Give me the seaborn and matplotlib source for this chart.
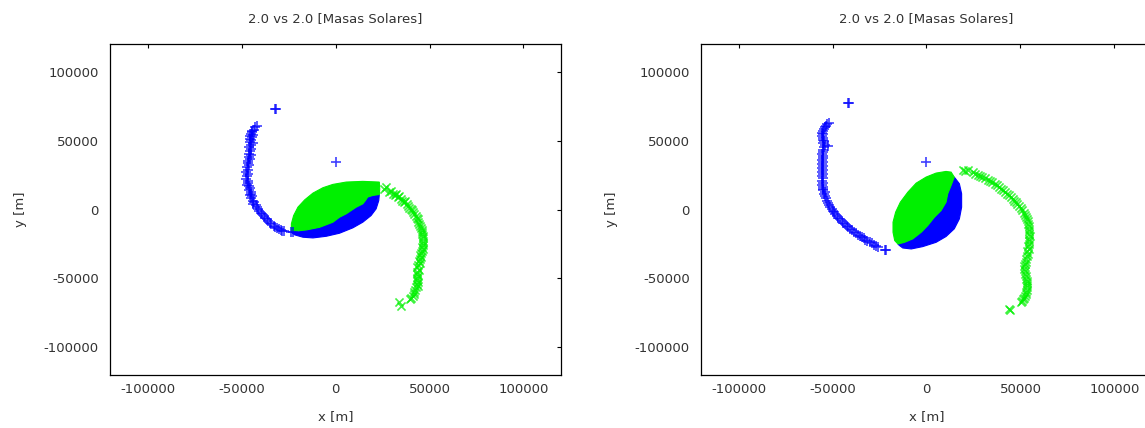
import matplotlib
matplotlib.use("Agg")
import matplotlib.pyplot as plt
import seaborn as sns

# ---------------- data (thousands of metres) ----------------
title = "2.0 vs 2.0 [Masas Solares]"
ticks = [-100000, -50000, 0, 50000, 100000]

# ---- left panel ----
L_blue_arm_x = [-32.3, -31.8, 0.0,
                -42.0, -42.8, -43.5, -44.2, -44.7, -45.0, -44.0, -45.3, -44.5, -45.6, -44.8, -45.5,
                -44.0, -45.0, -45.8, -44.8, -45.6, -46.0, -45.2, -46.2, -45.5, -46.5, -46.8, -46.0,
                -47.0, -46.8, -47.5, -46.8, -47.3, -47.6, -46.8, -46.5, -47.0, -46.2, -45.5, -46.0,
                -45.2, -44.8, -45.5, -44.2, -44.8, -43.8, -43.2, -43.8, -42.5, -42.0, -41.0, -40.5,
                -39.8, -39.0, -38.2, -37.5, -36.7, -36.0, -35.0, -34.2, -33.0, -32.0, -31.0, -30.0,
                -29.0, -28.5, -27.5, -23.5, -22.8]
L_blue_arm_y = [73.2, 72.8, 34.4,
                60.6, 59.5, 58.0, 57.0, 56.2, 55.0, 54.0, 53.5, 52.5, 51.4, 50.2, 49.0,
                48.0, 46.5, 45.0, 44.0, 42.5, 40.5, 39.5, 38.0, 36.5, 35.0, 33.5, 32.0,
                30.5, 28.4, 27.0, 25.5, 24.0, 22.3, 21.0, 19.5, 18.0, 17.0, 15.5, 14.0,
                12.5, 11.4, 10.5, 9.5, 8.0, 6.5, 5.3, 4.0, 3.0, 1.5, 0.5, -1.0,
                -2.5, -3.5, -4.8, -6.0, -7.2, -8.5, -9.5, -10.8, -11.6, -12.5, -13.5, -14.2,
                -15.0, -15.8, -15.6, -16.5, -16.2]
L_green_arm_x = [26.0, 27.0, 28.6, 29.5, 30.5, 31.5, 32.2, 33.0, 34.0, 34.8, 35.5, 36.6, 37.2,
                 37.8, 38.6, 39.3, 40.1, 40.8, 41.2, 42.0, 42.8, 43.2, 43.8, 44.0, 44.5, 45.0,
                 45.4, 45.9, 46.2, 46.0, 46.6, 46.3, 46.8, 46.4, 46.6, 46.0, 46.3, 45.8, 45.6,
                 45.2, 45.4, 44.8, 44.5, 44.8, 44.0, 43.6, 44.2, 43.6, 43.2, 43.8, 43.2, 43.6,
                 44.0, 43.3, 43.8, 43.0, 42.5, 42.0, 41.5, 41.0, 40.1, 39.5, 34.0, 34.8]
L_green_arm_y = [15.0, 16.0, 12.6, 13.2, 11.5, 10.5, 11.2, 9.0, 9.6, 7.8, 6.5, 5.3, 6.2,
                 3.8, 2.6, 1.4, 0.5, -0.6, -2.0, -3.0, -4.4, -5.8, -7.2, -8.8, -10.4, -11.8,
                 -13.4, -15.0, -16.5, -18.0, -19.5, -21.0, -22.5, -24.0, -25.5, -27.0, -28.6, -30.0, -31.5,
                 -33.0, -34.7, -36.0, -37.5, -39.0, -40.5, -42.0, -43.5, -45.0, -46.5, -48.0, -49.5, -51.0,
                 -52.5, -54.0, -55.5, -56.5, -58.0, -59.5, -61.0, -62.5, -64.0, -65.0, -67.4, -69.6]
# blob: lower (blue) part and upper (green) part, outlines
L_blue_blob_x = [-23.5, -15.5, -8.5, -1.4, 2.1, 5.7, 11.0, 14.5, 15.9, 17.1, 19.8, 23.3,
                 23.0, 21.6, 18.9, 14.5, 9.2, 2.1, -4.9, -12.0, -17.3, -21.7]
L_blue_blob_y = [-16.5, -14.8, -12.9, -9.2, -5.6, -3.1, 1.7, 4.1, 6.5, 9.0, 10.2, 10.9,
                 6.5, 0.5, -4.4, -9.2, -13.3, -17.2, -19.4, -20.6, -20.1, -18.4]
L_green_blob_x = [-23.5, -23.5, -22.3, -20.0, -16.4, -12.0, -6.7, -1.4, 5.7, 14.5, 23.3, 23.5,
                  23.3, 19.8, 17.1, 15.9, 14.5, 11.0, 5.7, 2.1, -1.4, -8.5, -15.5]
L_green_blob_y = [-16.0, -10.4, -4.4, 1.7, 7.0, 11.9, 15.8, 18.2, 19.9, 20.4, 19.9, 15.0,
                  10.9, 10.2, 9.0, 6.5, 4.1, 1.7, -3.1, -5.6, -9.2, -12.9, -14.8]

# ---- right panel ----
R_blue_arm_x = [-41.7, -41.0, 0.0,
                -52.0, -52.8, -53.4, -54.0, -54.5, -55.0, -55.5, -54.8, -55.6, -54.8, -55.3, -54.5,
                -55.2, -54.0, -52.5, -54.5, -55.2, -54.8, -55.5, -54.8, -55.3, -55.6, -54.9, -55.6,
                -55.0, -55.5, -55.3, -55.8, -55.2, -55.6, -55.0, -55.5, -55.2, -55.6, -55.0, -55.3,
                -54.8, -54.0, -54.5, -53.8, -53.5, -52.8, -52.5, -51.8, -51.4, -50.5, -50.0, -49.2,
                -48.5, -47.8, -47.0, -46.0, -45.2, -44.3, -43.5, -42.5, -41.5, -40.5, -39.5, -38.5,
                -37.5, -36.5, -35.5, -34.5, -33.5, -32.5, -31.5, -30.2, -29.0, -28.0, -26.8, -25.8,
                -22.3, -21.5]
R_blue_arm_y = [77.3, 77.0, 34.4,
                63.0, 62.0, 60.8, 59.5, 58.2, 57.0, 55.5, 54.5, 53.5, 52.0, 50.5, 49.5,
                48.0, 46.5, 46.0, 45.0, 43.5, 42.0, 40.5, 39.0, 37.5, 36.0, 34.5, 33.0,
                31.5, 30.0, 28.5, 27.0, 25.5, 24.0, 22.5, 21.0, 19.5, 18.0, 16.5, 15.0,
                13.8, 12.5, 11.0, 9.5, 8.0, 6.5, 5.0, 3.5, 2.0, 0.5, -0.8, -2.0,
                -3.3, -4.5, -5.8, -7.0, -8.5, -9.5, -10.8, -12.0, -13.0, -14.0, -15.0, -16.0,
                -17.0, -18.2, -19.5, -20.2, -21.0, -22.0, -22.8, -23.8, -24.5, -25.5, -26.5, -27.0,
                -29.1, -29.0]
R_green_arm_x = [19.3, 20.5, 22.0, 24.5, 25.8, 27.2, 28.5, 29.8, 31.0, 32.5, 33.8, 35.1, 36.2,
                 37.4, 38.5, 39.6, 40.7, 41.8, 42.9, 44.0, 45.0, 45.8, 46.6, 47.5, 48.3, 49.2,
                 50.1, 51.0, 51.7, 52.4, 53.1, 53.7, 53.9, 54.2, 54.5, 54.6, 54.8, 54.6, 55.0,
                 54.8, 54.5, 54.6, 54.2, 54.4, 53.7, 53.8, 53.4, 53.2, 52.8, 52.5, 52.0, 51.9,
                 52.3, 52.5, 53.0, 53.2, 53.6, 53.5, 53.7, 53.7, 53.4, 53.2, 52.8, 52.5, 51.8,
                 51.4, 50.8, 50.2, 44.0, 44.6]
R_green_arm_y = [28.4, 28.0, 28.4, 27.1, 26.0, 25.3, 24.5, 23.5, 23.0, 21.7, 20.8, 19.9, 18.6,
                 17.5, 16.2, 15.0, 14.0, 12.6, 11.5, 10.2, 9.0, 7.8, 6.5, 5.3, 3.8, 2.3,
                 0.8, -0.7, -2.2, -3.8, -5.3, -6.8, -8.6, -10.4, -12.2, -14.0, -15.8, -17.6, -19.5,
                 -21.3, -23.1, -25.0, -26.8, -28.6, -30.4, -32.2, -34.0, -35.9, -37.7, -39.5, -41.3, -43.1,
                 -44.9, -46.7, -48.5, -50.4, -52.0, -53.5, -55.0, -56.5, -58.0, -59.5, -61.0, -62.5, -64.0,
                 -65.0, -66.2, -67.4, -72.2, -72.6]
R_blue_blob_x = [14.8, 13.1, 11.3, 10.4, 7.8, 4.2, 0.7, -2.8, -7.3, -11.7, -15.2,
                 -14.5, -12.6, -8.1, -2.0, 5.1, 10.4, 14.8, 17.5, 18.7, 18.7, 17.5]
R_blue_blob_y = [23.5, 17.5, 11.4, 5.3, -0.7, -5.6, -11.6, -16.5, -21.3, -23.8, -25.0,
                 -26.0, -27.9, -28.6, -26.9, -23.8, -19.6, -14.0, -6.8, 1.7, 11.4, 18.7]
R_green_blob_x = [14.8, 13.1, 10.4, 5.1, -0.2, -5.5, -9.9, -13.9, -16.4, -17.8, -17.8, -16.9, -15.2,
                  -11.7, -7.3, -2.8, 0.7, 4.2, 7.8, 10.4, 11.3, 13.1]
R_green_blob_y = [23.5, 27.1, 27.6, 26.4, 23.5, 19.1, 12.6, 5.3, -1.9, -9.2, -16.5, -22.5, -25.0,
                  -23.8, -21.3, -16.5, -11.6, -5.6, -0.7, 5.3, 11.4, 17.5]

BLUE = "#0000ff"
GREEN = "#00f000"
TXT = "#333333"

sns.set_theme(style="white")
plt.rcParams["font.family"] = ["DejaVu Sans"]
plt.rcParams.update({
    "xtick.direction": "in", "ytick.direction": "in",
    "xtick.top": True, "ytick.right": True,
    "axes.edgecolor": "black", "axes.linewidth": 0.9,
})

fig = plt.figure(figsize=(11.45, 4.28), dpi=100)
ax1 = fig.add_axes([0.0961, 0.1238, 0.3939, 0.7734])
ax2 = fig.add_axes([0.6122, 0.1238, 0.3939, 0.7734])


def k(v):
    return [a * 1000 for a in v]


def panel(ax, bax, bay, gax, gay, bbx, bby, gbx, gby):
    ax.fill(k(bbx), k(bby), color=BLUE, lw=0.8, ec=BLUE, zorder=2)
    ax.fill(k(gbx), k(gby), color=GREEN, lw=0.8, ec=GREEN, zorder=3)
    sns.scatterplot(x=k(bax), y=k(bay), ax=ax, marker="+", color=BLUE, s=45,
                    linewidth=1.2, alpha=0.75, zorder=4)
    sns.scatterplot(x=k(gax), y=k(gay), ax=ax, marker="x", color=GREEN, s=34,
                    linewidth=1.2, alpha=0.75, zorder=4)
    ax.set_xlim(-120000, 120000)
    ax.set_ylim(-120000, 120000)
    ax.set_xticks(ticks)
    ax.set_yticks(ticks)
    ax.set_xticklabels([str(t) for t in ticks])
    ax.set_yticklabels([str(t) for t in ticks])
    ax.tick_params(length=3, width=0.8, colors="black", labelcolor=TXT,
                   labelsize=9.5, pad=6)
    ax.tick_params(axis="y", pad=8)
    ax.set_title(title, fontsize=9.5, color=TXT, pad=16)
    ax.set_xlabel("x [m]", fontsize=9.5, color=TXT, labelpad=10)
    ax.set_ylabel("y [m]", fontsize=9.5, color=TXT, labelpad=12)
    for s in ax.spines.values():
        s.set_visible(True)
        s.set_color("black")


panel(ax1, L_blue_arm_x, L_blue_arm_y, L_green_arm_x, L_green_arm_y,
      L_blue_blob_x, L_blue_blob_y, L_green_blob_x, L_green_blob_y)
panel(ax2, R_blue_arm_x, R_blue_arm_y, R_green_arm_x, R_green_arm_y,
      R_blue_blob_x, R_blue_blob_y, R_green_blob_x, R_green_blob_y)

fig.savefig("out.png", dpi=100)
